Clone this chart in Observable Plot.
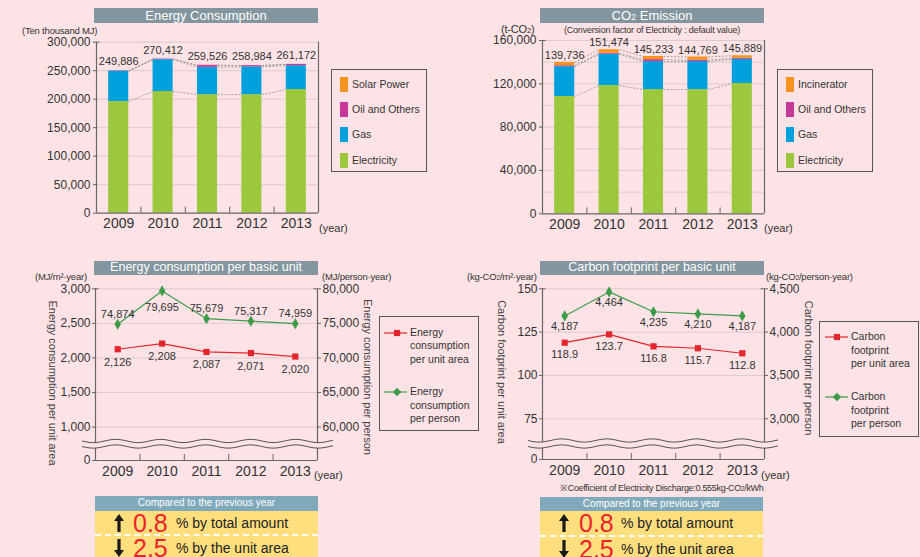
<!DOCTYPE html>
<html><head><meta charset="utf-8">
<script src="https://cdn.jsdelivr.net/npm/d3@7"></script>
<script src="https://cdn.jsdelivr.net/npm/@observablehq/plot@0.6"></script>
<style>
html,body{margin:0;padding:0;background:#fde3e6;}
#page{position:relative;width:920px;height:557px;overflow:hidden;background:#fde3e6;font-family:"Liberation Sans",Arial,sans-serif;color:#333;}
.layer{position:absolute;left:0;top:0;}
.tbar{position:absolute;background:#83959e;color:#fff;font-size:13px;text-align:center;white-space:nowrap;}
.unit{position:absolute;font-size:9.5px;white-space:nowrap;transform:translateY(-50%);letter-spacing:-0.2px;color:#333;line-height:1;}
.legend{position:absolute;border:1px solid #555;box-sizing:border-box;}
.lg-item{position:absolute;font-size:10.5px;white-space:nowrap;line-height:12px;}
.sw{position:absolute;width:8px;height:15px;}
.rot{position:absolute;font-size:11px;white-space:nowrap;transform:translate(-50%,-50%) rotate(90deg);color:#444;line-height:1;}
.yr{position:absolute;font-size:11px;white-space:nowrap;transform:translateY(-50%);line-height:1;}
.cmp{position:absolute;width:223px;height:62px;background:#ffde7e;}
.cmp .hd{height:14.5px;background:#80a9bb;color:#fff;font-size:10px;text-align:center;line-height:14.5px;}
.cmp .row{position:absolute;left:0;width:100%;height:24px;}
.cmp .num{position:absolute;color:#ee2229;font-size:25px;line-height:0.92;top:50%;transform:translateY(-50%);}
.cmp .txt{position:absolute;color:#222;font-size:14px;line-height:1;top:50%;transform:translateY(-50%);}
.cmp .arr{position:absolute;top:50%;transform:translateY(-50%);height:18px;}
.cmp .dash{position:absolute;left:0;width:100%;border-top:2px dashed #fff;}
</style></head>
<body><div id="page"></div>
<script>
// ---------------- data ----------------
const years = [2009, 2010, 2011, 2012, 2013];

const energySources = ["Electricity", "Gas", "Oil and Others", "Solar Power"];
const energyElectricity = [196000, 213500, 208000, 208000, 217000];
const energyGas = [53100, 55900, 48000, 48700, 41800];
const energyOil = [700, 950, 3450, 2220, 2300];
const energySolar = [86, 62, 76, 64, 72];
const energyTotal = [249886, 270412, 259526, 258984, 261172];
const energyTicks = [0, 50000, 100000, 150000, 200000, 250000, 300000];

const co2Sources = ["Electricity", "Gas", "Oil and Others", "Incinerator"];
const co2Electricity = [108300, 118400, 114700, 114700, 120300];
const co2Gas = [27500, 28900, 25800, 25900, 22300];
const co2Oil = [900, 900, 1800, 1200, 1000];
const co2Incinerator = [3036, 3274, 2933, 2969, 2289];
const co2Total = [139736, 151474, 145233, 144769, 145889];
const co2Ticks = [0, 40000, 80000, 120000, 160000];
const co2Grid = [20000, 40000, 60000, 80000, 100000, 120000, 140000, 160000];

const energyPerArea = [2126, 2208, 2087, 2071, 2020];
const energyPerPerson = [74874, 79695, 75679, 75317, 74959];
const epuLeftTicks = [1000, 1500, 2000, 2500, 3000];
const epuRightTicks = [60000, 65000, 70000, 75000, 80000];

const carbonPerArea = [118.9, 123.7, 116.8, 115.7, 112.8];
const carbonPerPerson = [4187, 4464, 4235, 4210, 4187];
const cfLeftTicks = [75, 100, 125, 150];
const cfRightTicks = [3000, 3500, 4000, 4500];

const changeTotal = "0.8";
const changeUnitArea = "2.5";

// ---------------- setup ----------------
const W = 920, H = 557;
const BG = "#fde3e6";
const FONT = '"Liberation Sans", Arial, sans-serif';
const AX = "#666";
const GRID = "#dccacd";
const HW = 0.226;
const fmt = d3.format(",");
const page = document.getElementById("page");
const energyColors = ["#9bc83c", "#00a0dc", "#c8379a", "#f7941d"];
const RED = "#e3262d", GREEN = "#3d9b4a";

function stackRows(series, names) {
  const rows = [];
  years.forEach((year, i) => {
    let acc = 0;
    names.forEach((name, k) => {
      const v = series[k][i];
      rows.push({year, source: name, level: k, y1: acc, y2: acc + v});
      acc += v;
    });
  });
  return rows;
}
function connectorRows(rows, names) {
  const out = [];
  names.forEach((name, k) => {
    for (let i = 0; i < years.length - 1; i++) {
      const a = rows.find(r => r.year === years[i] && r.level === k);
      const b = rows.find(r => r.year === years[i + 1] && r.level === k);
      out.push({x1: years[i], x2: years[i + 1], y1: a.y2, y2: b.y2});
    }
  });
  return out;
}
function addLayer(node) {
  node.classList.add("layer");
  page.appendChild(node);
}
const baseStyle = {background: "transparent", overflow: "visible", fontFamily: FONT, color: "#333"};
const bounds = [2009.5, 2010.5, 2011.5, 2012.5];

function barPlot(o) {
  const rows = stackRows(o.series, o.names);
  const conn = connectorRows(rows, o.names);
  const table = years.map((year, i) => ({year, total: o.totals[i]}));
  const unitPerPx = o.max / (o.bottom - o.top);
  return Plot.plot({
    width: W, height: H,
    marginLeft: o.left, marginRight: W - o.right, marginTop: o.top, marginBottom: H - o.bottom,
    style: baseStyle,
    x: {domain: [2008.5, 2013.5], axis: null, label: null},
    y: {domain: [0, o.max], axis: null, label: null},
    color: {domain: o.names, range: energyColors},
    marks: [
      Plot.gridY(o.grid, {stroke: GRID, strokeOpacity: 1}),
      Plot.rectY(rows, {x1: d => d.year - HW, x2: d => d.year + HW, y1: "y1", y2: "y2", fill: "source"}),
      Plot.link(conn, {x1: d => d.x1 + HW, x2: d => d.x2 - HW, y1: "y1", y2: "y2", stroke: "#999", strokeWidth: 0.9, strokeDasharray: "2,1.5"}),
      Plot.text(table, {x: "year", y: "total", text: d => fmt(d.total), dy: o.labelDy, fontSize: 11, fill: "#333"}),
      Plot.ruleX([2008.5, 2013.5], {stroke: AX, strokeWidth: 1.2}),
      Plot.ruleY([0], {stroke: AX, strokeWidth: 1.2}),
      Plot.ruleY([o.max], {x1: 2008.5, x2: 2008.58, stroke: AX}),
      Plot.ruleX(bounds, {y1: 0, y2: 6 * unitPerPx, stroke: AX}),
      Plot.axisY(o.ticks, {anchor: "left", tickSize: 3, tickPadding: 3, fontSize: 12, tickFormat: fmt, stroke: AX, label: null}),
      Plot.axisX(years, {anchor: "bottom", tickSize: 0, tickPadding: 5, fontSize: 14, tickFormat: d => String(d), label: null})
    ]
  });
}

function linePlot(o) {
  const table = years.map((year, i) => ({year, area: o.area[i], person: o.toLeft(o.person[i]), personRaw: o.person[i]}));
  const unitPerPx = (o.max - o.floor) / (o.bottom - o.top);
  return Plot.plot({
    width: W, height: H,
    marginLeft: o.left, marginRight: W - o.right, marginTop: o.top, marginBottom: H - o.bottom,
    style: baseStyle,
    x: {domain: [2008.5, 2013.5], axis: null, label: null},
    y: {domain: [o.floor, o.max], axis: null, label: null},
    marks: [
      Plot.gridY(o.leftTicks, {stroke: GRID, strokeOpacity: 1}),
      Plot.line(table, {x: "year", y: "area", stroke: RED, strokeWidth: 1.2}),
      Plot.line(table, {x: "year", y: "person", stroke: GREEN, strokeWidth: 1.2}),
      Plot.dot(table, {x: "year", y: "area", symbol: "square", r: 3.5, fill: RED}),
      Plot.dot(table, {x: "year", y: "person", symbol: "diamond", r: 3.4, fill: GREEN}),
      Plot.text(table, {x: "year", y: "area", text: d => o.fmtLeft(d.area), dy: o.redDy, fontSize: 11, fill: "#333"}),
      Plot.text(table, {filter: d => !o.greenFlip.includes(d.year), x: "year", y: "person", text: d => fmt(d.personRaw), dy: o.greenDy, fontSize: 11, fill: "#333"}),
      Plot.text(table, {filter: d => o.greenFlip.includes(d.year), x: "year", y: "person", text: d => fmt(d.personRaw), dy: o.greenFlipDy, fontSize: 11, fill: "#333"}),
      Plot.ruleX([2008.5, 2013.5], {stroke: AX, strokeWidth: 1.2}),
      Plot.ruleY([o.floor], {stroke: AX, strokeWidth: 1.2}),
      Plot.ruleY([o.max], {x1: 2008.5, x2: 2008.58, stroke: AX}),
      Plot.ruleY([o.max], {x1: 2013.42, x2: 2013.5, stroke: AX}),
      Plot.ruleX(bounds, {y1: o.floor, y2: o.floor + 6 * unitPerPx, stroke: AX}),
      // broken axis: the bottom of the frame stands for zero
      Plot.axisY([o.floor].concat(o.leftTicks), {anchor: "left", tickSize: 3, tickPadding: 2, fontSize: 12, tickFormat: d => d === o.floor ? "0" : o.fmtTick(d), stroke: AX, label: null}),
      Plot.axisY(o.rightTicks.map(o.toLeft), {anchor: "right", tickSize: 3, tickPadding: 2, fontSize: 12, tickFormat: d => fmt(Math.round(o.toRight(d))), stroke: AX, label: null}),
      Plot.axisX(years, {anchor: "bottom", tickSize: 0, tickPadding: 6, fontSize: 14, tickFormat: d => String(d), label: null})
    ]
  });
}

// Panel 1: Energy consumption
addLayer(barPlot({left: 96, right: 318, top: 41.7, bottom: 212.7, max: 300000, ticks: energyTicks,
  grid: energyTicks.filter(t => t > 0), names: energySources,
  series: [energyElectricity, energyGas, energyOil, energySolar], totals: energyTotal, labelDy: -9}));

// Panel 2: CO2 emission
addLayer(barPlot({left: 542, right: 764, top: 40, bottom: 213.3, max: 160000, ticks: co2Ticks,
  grid: co2Grid, names: co2Sources,
  series: [co2Electricity, co2Gas, co2Oil, co2Incinerator], totals: co2Total, labelDy: -7}));

// Panel 3: Energy consumption per basic unit
addLayer(linePlot({left: 95, right: 317, top: 288.3, bottom: 460, floor: 517, max: 3000,
  leftTicks: epuLeftTicks, rightTicks: epuRightTicks,
  toLeft: v => (v - 50000) / 10, toRight: v => v * 10 + 50000,
  area: energyPerArea, person: energyPerPerson, fmtLeft: fmt, fmtTick: fmt,
  redDy: 13, greenDy: -10, greenFlip: [2010], greenFlipDy: 17}));

// Panel 4: Carbon footprint per basic unit
addLayer(linePlot({left: 542, right: 764, top: 288.3, bottom: 459, floor: 51.5, max: 150,
  leftTicks: cfLeftTicks, rightTicks: cfRightTicks,
  toLeft: v => (v - 1500) / 20, toRight: v => v * 20 + 1500,
  area: carbonPerArea, person: carbonPerPerson, fmtLeft: d3.format(".1f"), fmtTick: fmt,
  redDy: 12, greenDy: 11, greenFlip: [], greenFlipDy: 0}));

// axis-break squiggles
const deco = d3.create("svg").attr("width", W).attr("height", H).style("position", "absolute").style("left", 0).style("top", 0);
function squiggle(x0, x1, yA, yB, amp, period) {
  const xs = d3.range(x0, x1 + 0.5, 1);
  const wave = x => amp * Math.sin((x - x0) / period * 2 * Math.PI);
  const up = xs.map(x => [x, yA + wave(x)]);
  const lo = xs.map(x => [x, yB + wave(x)]);
  const band = up.concat(lo.slice().reverse());
  deco.append("path").attr("d", "M" + band.map(p => p.join(",")).join("L") + "Z").attr("fill", BG);
  deco.append("path").attr("d", d3.line()(up)).attr("fill", "none").attr("stroke", "#555").attr("stroke-width", 1);
  deco.append("path").attr("d", d3.line()(lo)).attr("fill", "none").attr("stroke", "#555").attr("stroke-width", 1);
}
squiggle(82, 333, 441, 446.5, 1.6, 45);
squiggle(528, 778, 440.5, 446.5, 1.6, 45);
page.appendChild(deco.node());

// ---------------- HTML text ----------------
function el(html) { const t = document.createElement("template"); t.innerHTML = html.trim(); const n = t.content.firstChild; page.appendChild(n); return n; }
const sub2 = '<span style="font-size:0.7em">2</span>';

el(`<div class="tbar" style="left:94px;top:8px;width:224px;height:15px;line-height:15px;">Energy Consumption</div>`);
el(`<div class="tbar" style="left:540px;top:8px;width:224px;height:15px;line-height:15px;">CO${sub2} Emission</div>`);
el(`<div class="tbar" style="left:94px;top:261px;width:224px;height:13.5px;line-height:13.5px;font-size:12.5px;">Energy consumption per basic unit</div>`);
el(`<div class="tbar" style="left:540px;top:261px;width:224px;height:13.5px;line-height:13.5px;font-size:12.5px;">Carbon footprint per basic unit</div>`);

el(`<div class="unit" style="left:22px;top:31px;">(Ten thousand MJ)</div>`);
el(`<div class="unit" style="left:501px;top:29px;font-size:11px;">(t-CO${sub2})</div>`);
el(`<div class="unit" style="left:652px;top:30px;font-size:9px;transform:translate(-50%,-50%);">(Conversion factor of Electricity : default value)</div>`);
el(`<div class="unit" style="left:35px;top:277px;">(MJ/m²·year)</div>`);
el(`<div class="unit" style="left:322px;top:277px;">(MJ/person·year)</div>`);
el(`<div class="unit" style="left:467px;top:277px;">(kg-CO${sub2}/m²·year)</div>`);
el(`<div class="unit" style="left:766px;top:277px;">(kg-CO${sub2}/person·year)</div>`);

el(`<div class="yr" style="left:319px;top:228px;">(year)</div>`);
el(`<div class="yr" style="left:764px;top:228px;">(year)</div>`);
el(`<div class="yr" style="left:314px;top:475px;">(year)</div>`);
el(`<div class="yr" style="left:761px;top:475px;">(year)</div>`);

el(`<div class="rot" style="left:51.5px;top:383px;">Energy consumption per unit area</div>`);
el(`<div class="rot" style="left:366.5px;top:377px;">Energy consumption per person</div>`);
el(`<div class="rot" style="left:500.5px;top:372px;">Carbon footprint per unit area</div>`);
el(`<div class="rot" style="left:808px;top:367.5px;">Carbon footprint per person</div>`);

// bar legends
function barLegend(left, names, colors) {
  const box = el(`<div class="legend" style="left:${left}px;top:69px;width:96px;height:103px;"></div>`);
  const ys = [14, 39, 64, 90];
  names.forEach((n, i) => {
    box.insertAdjacentHTML("beforeend",
      `<div class="sw" style="left:8px;top:${ys[i] - 7.5}px;background:${colors[i]}"></div>` +
      `<div class="lg-item" style="left:20px;top:${ys[i] - 6}px;">${n}</div>`);
  });
}
barLegend(331, energySources.slice().reverse(), energyColors.slice().reverse());
barLegend(777, co2Sources.slice().reverse(), energyColors.slice().reverse());

// line legends
function lineLegend(left, top, w, h, items) {
  const box = el(`<div class="legend" style="left:${left}px;top:${top}px;width:${w}px;height:${h}px;"></div>`);
  items.forEach(it => {
    const mk = it.shape === "square"
      ? `<rect x="${it.mx - 3.1}" y="-3.1" width="6.2" height="6.2" fill="${it.color}"/>`
      : `<path d="M${it.mx},-4.2L${it.mx + 4.2},0L${it.mx},4.2L${it.mx - 4.2},0Z" fill="${it.color}"/>`;
    box.insertAdjacentHTML("beforeend",
      `<svg style="position:absolute;left:0;top:${it.y - 5}px;overflow:visible" width="${w}" height="10"><g transform="translate(0,5)"><line x1="${it.lx1}" x2="${it.lx2}" y1="0" y2="0" stroke="${it.color}" stroke-width="1.2"/>${mk}</g></svg>` +
      `<div class="lg-item" style="left:${it.tx}px;top:${it.y - 7}px;line-height:13.5px;">${it.lines.join("<br>")}</div>`);
  });
}
lineLegend(379, 316, 100, 115, [
  {y: 15.5, color: RED, shape: "square", lx1: 4, lx2: 27, mx: 17, tx: 30, lines: ["Energy", "consumption", "per unit area"]},
  {y: 75, color: GREEN, shape: "diamond", lx1: 4, lx2: 27, mx: 17, tx: 30, lines: ["Energy", "consumption", "per person"]}
]);
lineLegend(819, 321, 100, 116, [
  {y: 15, color: RED, shape: "square", lx1: 5, lx2: 28, mx: 17, tx: 31, lines: ["Carbon", "footprint", "per unit area"]},
  {y: 75, color: GREEN, shape: "diamond", lx1: 5, lx2: 28, mx: 17, tx: 31, lines: ["Carbon", "footprint", "per person"]}
]);

// footnote
el(`<div class="unit" style="left:560px;top:488px;font-size:9px;letter-spacing:-0.3px;">※Coefficient of Electricity Discharge:0.555kg-CO${sub2}/kWh</div>`);

// comparison boxes
const upArrow = `<svg width="10" height="18" viewBox="0 0 10 18" style="display:block"><path d="M5,0L10,7H6.6V18H3.4V7H0Z" fill="#1a1a1a"/></svg>`;
const downArrow = `<svg width="10" height="18" viewBox="0 0 10 18" style="display:block"><path d="M5,18L10,11H6.6V0H3.4V11H0Z" fill="#1a1a1a"/></svg>`;
function cmpBox(left, top, arrX, numX, txtX) {
  el(`<div class="cmp" style="left:${left}px;top:${top}px;">
    <div class="hd">Compared to the previous year</div>
    <div class="row" style="top:14.5px;">
      <div class="arr" style="left:${arrX}px;">${upArrow}</div>
      <div class="num" style="left:${numX}px;">${changeTotal}</div>
      <div class="txt" style="left:${txtX}px;">% by total amount</div>
    </div>
    <div class="dash" style="top:38px;"></div>
    <div class="row" style="top:40px;">
      <div class="arr" style="left:${arrX}px;">${downArrow}</div>
      <div class="num" style="left:${numX}px;">${changeUnitArea}</div>
      <div class="txt" style="left:${txtX}px;">% by the unit area</div>
    </div>
  </div>`);
}
cmpBox(95, 496, 19, 38, 81);
cmpBox(540, 496.5, 19, 39, 81);
</script>
</body></html>
